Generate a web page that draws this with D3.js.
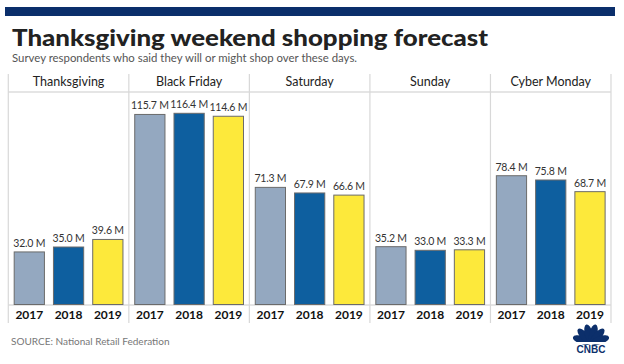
<!DOCTYPE html>
<html>
<head>
<meta charset="utf-8">
<script src="https://cdn.jsdelivr.net/npm/d3@7"></script>
<style>
 body { margin: 0; background: #fff; }
 svg { display: block; font-family: Lato, "Open Sans", sans-serif; }
</style>
</head>
<body>
<svg id="chart" width="624" height="364"></svg>
<script>
var days = ["Thanksgiving", "Black Friday", "Saturday", "Sunday", "Cyber Monday"];
var years = ["2017", "2018", "2019"];
var values2017 = [32.0, 115.7, 71.3, 35.2, 78.4];
var values2018 = [35.0, 116.4, 67.9, 33.0, 75.8];
var values2019 = [39.6, 114.6, 66.6, 33.3, 68.7];
var colors = ["#94a8c0", "#0e5f9f", "#fde93b"];

var series = [values2017, values2018, values2019];
var data = days.map(function(d, i) {
 return { day: d, vals: years.map(function(y, j) { return { year: y, value: series[j][i] }; }) };
});

var svg = d3.select("#chart");

// top navy strip
svg.append("rect").attr("x", 5).attr("y", 7).attr("width", 610).attr("height", 9).attr("fill", "#0b2f6b");

svg.append("text")
 .attr("x", 12).attr("y", 46)
 .attr("font-size", 23).attr("font-weight", 900).attr("fill", "#222")
 .attr("textLength", 476).attr("lengthAdjust", "spacingAndGlyphs")
 .text("Thanksgiving weekend shopping forecast");

svg.append("text")
 .attr("x", 12).attr("y", 62)
 .attr("font-size", 11).attr("fill", "#555")
 .attr("textLength", 345).attr("lengthAdjust", "spacingAndGlyphs")
 .text("Survey respondents who said they will or might shop over these days.");

var x0 = d3.scaleBand().domain(days).range([8.3, 611]).padding(0);
var x1 = d3.scaleBand().domain(years).range([0, x0.bandwidth()]).paddingInner(0.23).paddingOuter(0.15);
var y = d3.scaleLinear().domain([0, 116.4]).range([304.5, 113.3]);

// header separator
svg.append("line").attr("x1", 8.3).attr("x2", 611).attr("y1", 92).attr("y2", 92)
 .attr("stroke", "#ddd").attr("stroke-width", 1.5);
// base line
svg.append("line").attr("x1", 8.3).attr("x2", 611).attr("y1", 305).attr("y2", 305)
 .attr("stroke", "#ddd").attr("stroke-width", 1.5);

// dividers
svg.selectAll(".div").data(days.concat(["end"])).enter().append("line")
 .attr("x1", function(d, i) { return i < days.length ? x0(d) : 611; })
 .attr("x2", function(d, i) { return i < days.length ? x0(d) : 611; })
 .attr("y1", 74).attr("y2", 323)
 .attr("stroke", "#d8d8d8").attr("stroke-width", 1.2);

var g = svg.selectAll(".day").data(data).enter().append("g")
 .attr("class", "day")
 .attr("transform", function(d) { return "translate(" + x0(d.day) + ",0)"; });

g.append("text")
 .attr("x", x0.bandwidth() / 2).attr("y", 86)
 .attr("text-anchor", "middle").attr("font-size", 12.5).attr("fill", "#222")
 .text(function(d) { return d.day; });

var bar = g.selectAll(".bar").data(function(d) { return d.vals; }).enter();

bar.append("rect")
 .attr("x", function(d) { return x1(d.year); })
 .attr("y", function(d) { return y(d.value); })
 .attr("width", x1.bandwidth())
 .attr("height", function(d) { return y(0) - y(d.value); })
 .attr("fill", function(d, i) { return colors[i]; })
 .attr("stroke", "#6b6b6b").attr("stroke-width", 1);

bar.append("text")
 .attr("x", function(d) { return x1(d.year) + x1.bandwidth() / 2; })
 .attr("y", function(d) { return y(d.value) - 5; })
 .attr("text-anchor", "middle").attr("font-size", 10.5).attr("fill", "#333")
 .attr("letter-spacing", -0.2)
 .text(function(d) { return d.value.toFixed(1) + " M"; });

bar.append("text")
 .attr("x", function(d) { return x1(d.year) + x1.bandwidth() / 2; })
 .attr("y", 319)
 .attr("text-anchor", "middle").attr("font-size", 12).attr("font-weight", 700).attr("fill", "#111")
 .text(function(d) { return d.year; });

svg.append("text")
 .attr("x", 11).attr("y", 345)
 .attr("font-size", 10).attr("fill", "#777")
 .text("SOURCE: National Retail Federation");

// CNBC logo
var logo = svg.append("g").attr("transform", "translate(591,343)");
var angles = [-72, -43, -14, 14, 43, 72];
logo.selectAll("ellipse").data(angles).enter().append("ellipse")
 .attr("cx", 0).attr("cy", -9.5).attr("rx", 4).attr("ry", 9.5)
 .attr("fill", "#0c2f6b")
 .attr("transform", function(a) { return "rotate(" + a + ",0,0)"; });
logo.append("rect").attr("x", -19).attr("y", -1).attr("width", 38).attr("height", 2).attr("fill", "#fff");
logo.append("text").attr("x", 0).attr("y", 10).attr("text-anchor", "middle")
 .attr("font-size", 10).attr("font-weight", 900).attr("fill", "#0c2f6b")
 .attr("font-family", "Arial, 'Liberation Sans', sans-serif")
 .text("CNBC");
</script>
</body>
</html>
